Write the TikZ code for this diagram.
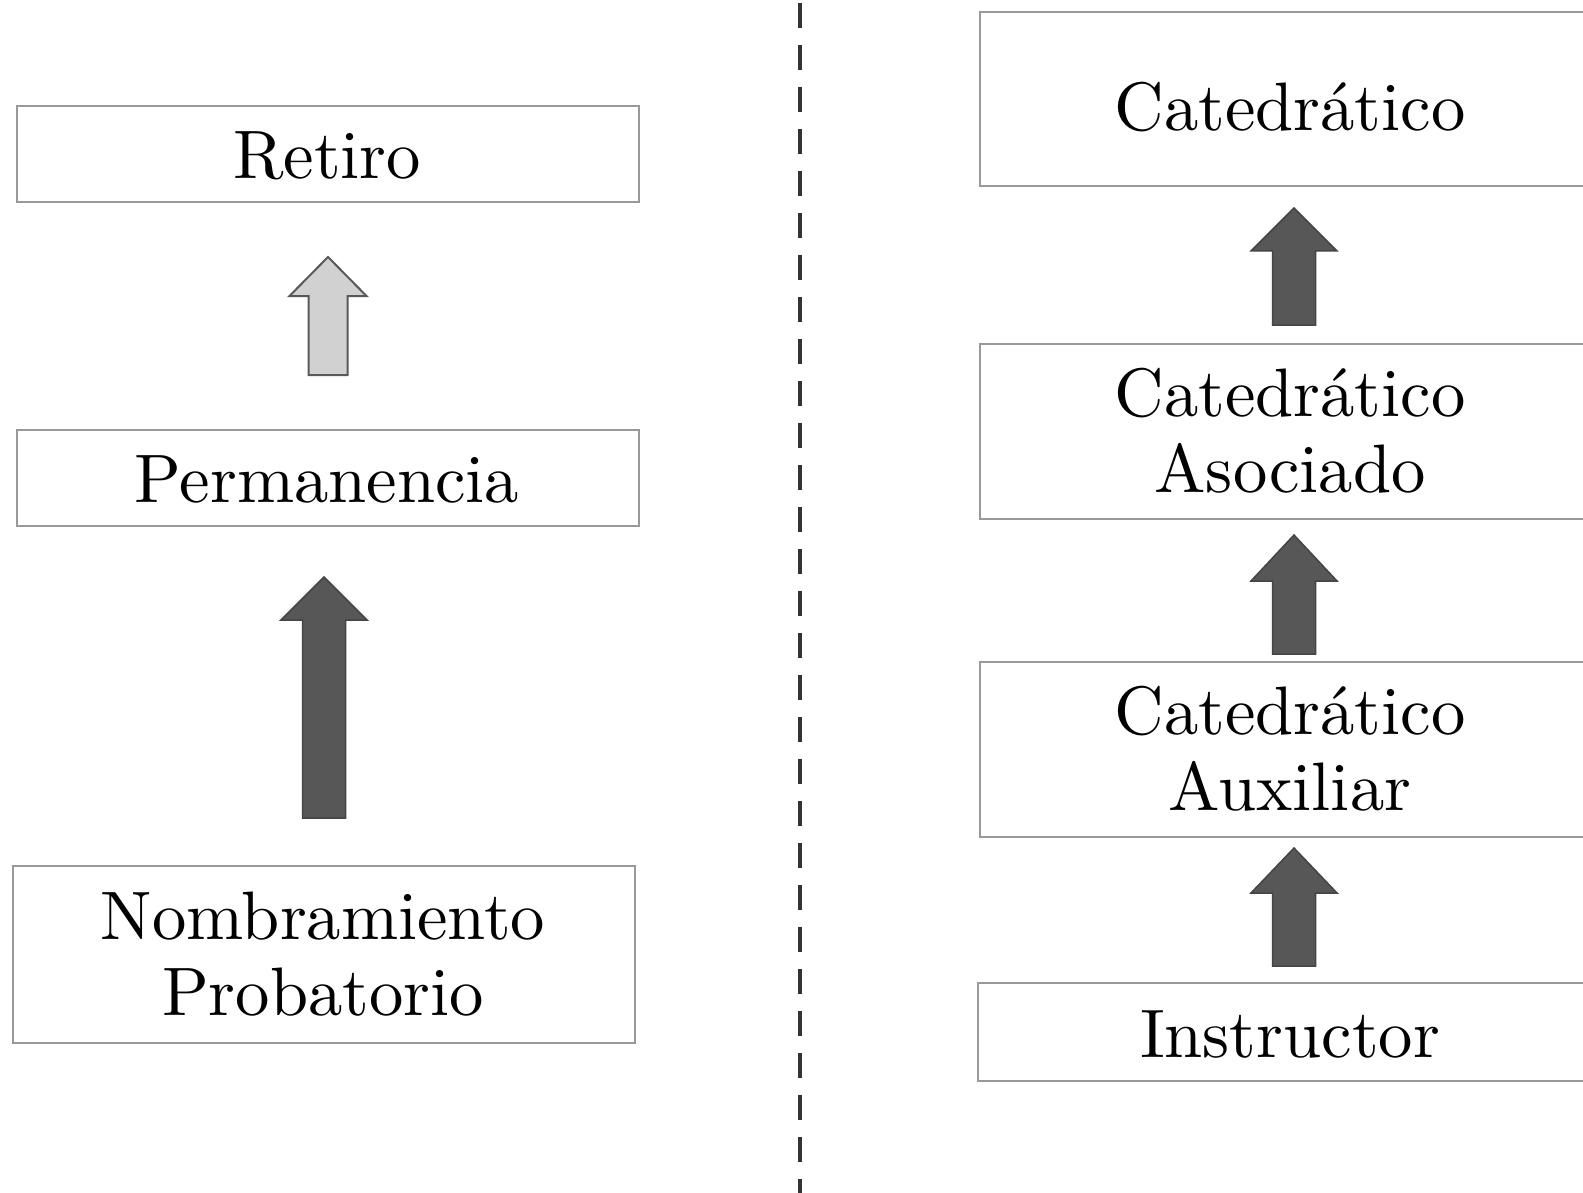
\documentclass[tikz,border=0pt]{standalone}
\usepackage{tikz}
\usepackage{graphicx}
\newcommand{\bigtxt}[1]{\scalebox{6.86}{\fontsize{10}{11.22}\selectfont\begin{tabular}[t]{@{}c@{}}#1\end{tabular}}}
\begin{document}
\begin{tikzpicture}[x=1pt,y=-1pt,
  box/.style={draw=boxgray,line width=2pt,inner sep=0pt,anchor=north west},
  lbl/.style={inner sep=0pt,anchor=base,text=black},
  darkarr/.style={fill=arrdark,draw=arrdark!80!black,line width=1.5pt,line join=miter},
  lightarr/.style={fill=arrlight,draw=black!65,line width=2pt,line join=miter},
  sep/.style={draw=black!80,line width=4.5pt,dash pattern=on 25pt off 17pt}]
\definecolor{boxgray}{gray}{0.6}
\definecolor{arrdark}{gray}{0.34}
\definecolor{arrlight}{gray}{0.82}
\useasboundingbox (0,0) rectangle (1583,1193);
\clip (0,0) rectangle (1583,1193);
\fill[white] (0,0) rectangle (1583,1193);
\newcommand{\blockarr}[7]{%
  \draw[#7] (#1-#6,#4) -- (#1-#6,#3) -- (#1-#5,#3) -- (#1,#2) -- (#1+#5,#3) -- (#1+#6,#3) -- (#1+#6,#4) -- cycle;}
% left column
\node[box,minimum width=622pt,minimum height=96pt] (retiro) at (16,105) {};
\node[box,minimum width=622pt,minimum height=96pt] (perm) at (16,429) {};
\node[box,minimum width=622pt,minimum height=177pt] (nomb) at (12,865) {};
\node[lbl] (retiro-t) at (327,179) {\bigtxt{Retiro}};
\node[lbl] (perm-t) at (327,502) {\bigtxt{Permanencia}};
\node[lbl] (nomb-t) at (323,939) {\bigtxt{Nombramiento\\Probatorio}};
% separator
\coordinate (st) at (800,3);
\coordinate (sb) at (800,1193);
\draw[sep] (st) -- (sb);
% right column
\node[box,minimum width=622pt,minimum height=174pt] (cat) at (979,11) {};
\node[box,minimum width=622pt,minimum height=175pt] (asoc) at (979,343) {};
\node[box,minimum width=622pt,minimum height=175pt] (aux) at (979,661) {};
\node[box,minimum width=624pt,minimum height=98pt] (instr) at (977,982) {};
\node[lbl] (cat-t) at (1290,131) {\bigtxt{Catedrático}};
\node[lbl] (asoc-t) at (1290,416) {\bigtxt{Catedrático\\Asociado}};
\node[lbl] (aux-t) at (1290,734) {\bigtxt{Catedrático\\Auxiliar}};
\node[lbl] (instr-t) at (1290,1057) {\bigtxt{Instructor}};
% arrows
\blockarr{328}{257}{296}{375}{38.5}{19.5}{lightarr}
\blockarr{324}{577}{620}{818}{43}{21.5}{darkarr}
\blockarr{1294}{208}{251}{325}{43}{21.5}{darkarr}
\blockarr{1294}{535}{581}{654}{43}{21.5}{darkarr}
\blockarr{1294}{848}{893}{966}{43}{21.5}{darkarr}
\end{tikzpicture}
\end{document}
